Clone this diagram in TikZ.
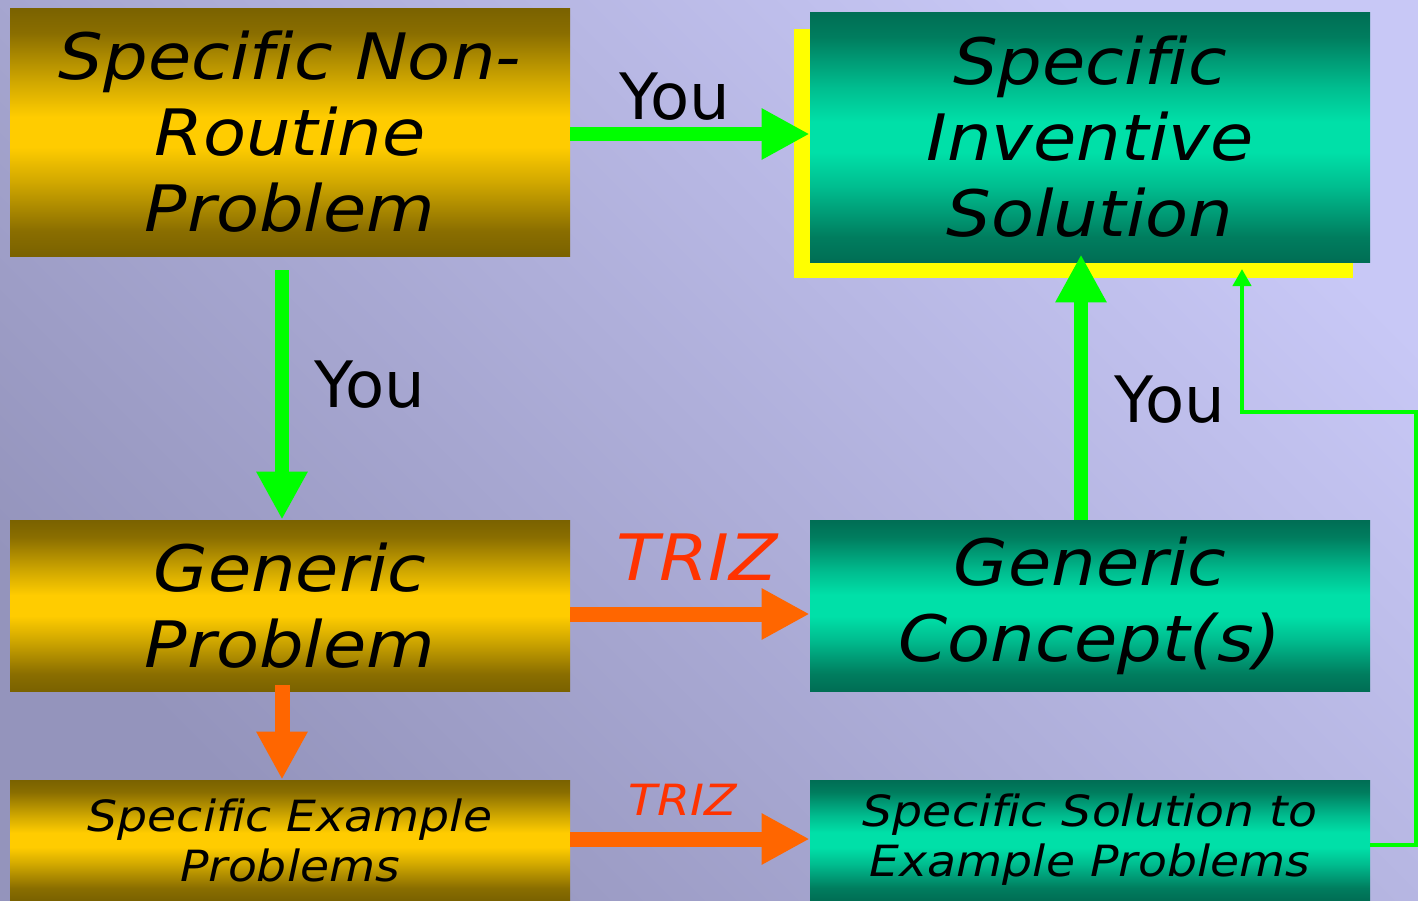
\documentclass[tikz,border=0pt]{standalone}
\usepackage{fontspec}
\setmainfont{DejaVu Sans}[Ligatures=NoCommon, ItalicFeatures={FakeStretch=1.1}]
\usetikzlibrary{arrows.meta,calc}
\definecolor{bgdark}{RGB}{148,148,188}
\definecolor{bglight}{RGB}{200,200,246}
\definecolor{arrgreen}{RGB}{0,255,0}
\definecolor{arrorange}{RGB}{255,102,0}
\definecolor{trizred}{RGB}{255,51,0}
\definecolor{shadowyellow}{RGB}{255,255,0}
\pgfdeclareverticalshading{goldsh}{100bp}{rgb(0bp)=(0.478,0.384,0); rgb(25bp)=(0.478,0.384,0); rgb(30bp)=(0.54,0.43,0); rgb(40bp)=(0.82,0.66,0); rgb(47bp)=(1,0.8,0); rgb(53bp)=(1,0.8,0); rgb(60bp)=(0.82,0.66,0); rgb(70bp)=(0.54,0.43,0); rgb(75bp)=(0.478,0.384,0); rgb(100bp)=(0.478,0.384,0)}
\pgfdeclareverticalshading{tealsh}{100bp}{rgb(0bp)=(0,0.43,0.33); rgb(25bp)=(0,0.43,0.33); rgb(30bp)=(0,0.49,0.37); rgb(40bp)=(0,0.74,0.56); rgb(47bp)=(0,0.88,0.66); rgb(53bp)=(0,0.88,0.66); rgb(60bp)=(0,0.74,0.56); rgb(70bp)=(0,0.49,0.37); rgb(75bp)=(0,0.43,0.33); rgb(100bp)=(0,0.43,0.33)}
\tikzset{
  goldbox/.style={rectangle, shading=goldsh, inner sep=0pt, align=center, text=black},
  tealbox/.style={rectangle, shading=tealsh, inner sep=0pt, align=center, text=black},
  bigtxt/.style={font=\fontsize{32}{38}\selectfont\itshape},
  smalltxt/.style={font=\fontsize{21.5}{25}\selectfont\itshape},
  youlbl/.style={font=\fontsize{32}{38}\selectfont, text=black, inner sep=0pt},
  trizbig/.style={font=\fontsize{32}{38}\selectfont\itshape, text=trizred, inner sep=0pt},
  trizsmall/.style={font=\fontsize{21.5}{25}\selectfont\itshape, text=trizred, inner sep=0pt},
  greenarrow/.style={draw=arrgreen, line width=7pt, -{Triangle[length=24pt,width=24pt]}},
  orangearrow/.style={draw=arrorange, line width=7.5pt, -{Triangle[length=24pt,width=24pt]}},
  thinarrow/.style={draw=arrgreen, line width=2pt, -{Triangle[length=8.5pt,width=9pt]}},
}
\begin{document}
\begin{tikzpicture}[x=0.5pt,y=-0.5pt]
\useasboundingbox (0,0) rectangle (1418,900);
\shade[left color=bgdark, right color=bglight, shading angle=135] (0,0) rectangle (1418,900);
% shadow
\fill[shadowyellow] (794,29) rectangle (1353,278);
% boxes
\node[goldbox, bigtxt, minimum width=280pt, minimum height=124pt] (A) at (290,132) {Specific Non-\\Routine\\Problem};
\node[tealbox, bigtxt, minimum width=280pt, minimum height=125pt] (B) at (1090,137) {Specific\\Inventive\\Solution};
\node[goldbox, bigtxt, minimum width=280pt, minimum height=85.5pt] (C) at (290,605.5) {Generic\\Problem};
\node[tealbox, bigtxt, minimum width=280pt, minimum height=85.5pt] (D) at (1090,605.5) {Generic\\Concept(s)};
\node[goldbox, smalltxt, minimum width=280pt, minimum height=60pt] (E) at (290,840) {Specific Example\\Problems};
\node[tealbox, smalltxt, minimum width=280pt, minimum height=60pt] (F) at (1090,840) {Specific Solution to\\Example Problems};
% arrows
\draw[greenarrow] ($(A.east)+(0,2)$) -- ($(B.west)+(0,-3)$);
\draw[greenarrow] ($(A.south)+(-8,14)$) -- ($(C.north)+(-8,0)$);
\draw[orangearrow] ($(C.east)+(0,8.5)$) -- ($(D.west)+(0,8.5)$);
\draw[orangearrow] ($(C.south)+(-8,-6)$) -- ($(E.north)+(-8,0)$);
\draw[orangearrow] ($(E.east)+(0,-1)$) -- ($(F.west)+(0,-1)$);
\draw[greenarrow] ($(D.north)+(-9,0)$) -- ($(B.south)+(-9,-8)$);
\coordinate (t1) at (1416,845);
\coordinate (t2) at (1416,412);
\coordinate (t3) at (1242,412);
\coordinate (t4) at (1242,269);
\draw[thinarrow] ($(F.east)+(0,5)$) -- (t1) -- (t2) -- (t3) -- (t4);
% labels
\node[youlbl] (y1) at (675,97) {You};
\node[youlbl] (y2) at (370,385) {You};
\node[youlbl] (y3) at (1170,400) {You};
\node[trizbig] (z1) at (697,557) {TRIZ};
\node[trizsmall] (z2) at (683,800) {TRIZ};
\end{tikzpicture}
\end{document}
